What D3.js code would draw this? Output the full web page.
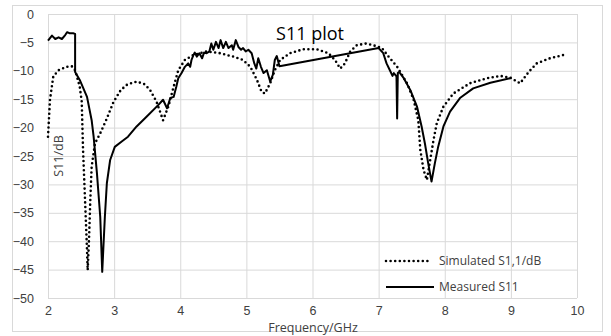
<!DOCTYPE html>
<html lang="en">
<head>
<meta charset="UTF-8">
<title>S11 plot</title>
<script src="https://d3js.org/d3.v7.min.js"></script>
<style>
    body { margin: 0; background: #fff; font-family: 'Open Sans', 'Noto Sans', sans-serif; }
    .grid line { stroke: #d9d9d9; stroke-width: 1; }
    .tick text { fill: #404040; font-size: 12.5px; }
</style>
</head>
<body>
<div id="chart"></div>
<script>
    // Simulated S1,1 (GHz, dB)
    const simFreq = [2.0, 2.03, 2.08, 2.16, 2.28, 2.36, 2.41, 2.48, 2.51, 2.53, 2.56, 2.59, 2.6,
        2.62, 2.64, 2.66, 2.71, 2.79, 2.89, 2.99, 3.1, 3.2, 3.34, 3.45, 3.54, 3.64, 3.74, 3.82, 3.9,
        3.97, 4.07, 4.2, 4.4, 4.6, 4.8, 4.95, 5.06, 5.16, 5.23, 5.28, 5.36, 5.43, 5.51, 5.66, 5.86,
        6.06, 6.24, 6.34, 6.42, 6.49, 6.57, 6.67, 6.8, 6.92, 7.05, 7.15, 7.28, 7.43, 7.53, 7.6, 7.63,
        7.68, 7.73, 7.78, 7.83, 7.88, 7.98, 8.13, 8.38, 8.64, 8.84, 8.99, 9.14, 9.27, 9.39, 9.59, 9.8];
    const simS11 = [-21.6, -15.1, -11.0, -9.9, -9.3, -9.2, -9.9, -12.8, -15.4, -23.9, -32.7, -41.5, -45.1,
        -39.8, -32.7, -26.9, -22.8, -21.0, -18.4, -15.5, -13.4, -12.4, -11.9, -12.3, -13.3, -15.4, -18.7, -16.3, -12.8,
        -9.9, -8.1, -7.2, -6.6, -6.9, -7.5, -8.1, -9.3, -11.6, -13.7, -14.0, -12.2, -9.9, -8.1, -6.9, -6.2,
        -6.2, -6.9, -8.1, -9.6, -8.7, -6.6, -5.5, -5.2, -5.5, -6.0, -7.5, -9.3, -12.2, -15.1, -18.7, -23.9,
        -27.5, -29.2, -25.7, -22.2, -19.2, -16.3, -14.0, -12.2, -11.3, -10.9, -11.2, -12.2, -10.2, -8.7, -7.8, -7.2];

    // Measured S11 (GHz, dB)
    const measFreq = [2.0, 2.06, 2.11, 2.16, 2.21, 2.26, 2.29, 2.33, 2.38, 2.41, 2.41, 2.48, 2.59, 2.66,
        2.69, 2.74, 2.79, 2.82, 2.86, 2.89, 2.94, 3.01, 3.11, 3.21, 3.34, 3.49, 3.67, 3.74, 3.8, 3.85,
        3.9, 3.94, 3.97, 4.02, 4.07, 4.12, 4.15, 4.17, 4.2, 4.22, 4.25, 4.29, 4.33, 4.36, 4.4, 4.44,
        4.47, 4.5, 4.54, 4.58, 4.61, 4.65, 4.69, 4.73, 4.78, 4.8, 4.84, 4.88, 4.92, 4.95, 4.99, 5.03,
        5.08, 5.12, 5.15, 5.18, 5.22, 5.26, 5.31, 5.36, 5.4, 5.43, 5.46, 5.5, 7.0, 7.07, 7.12, 7.17,
        7.21, 7.23, 7.27, 7.28, 7.29, 7.31, 7.38, 7.48, 7.58, 7.65, 7.7, 7.75, 7.8, 7.85, 7.9, 7.98,
        8.08, 8.23, 8.43, 8.69, 8.99];
    const measS11 = [-4.7, -3.8, -4.4, -4.1, -4.4, -3.7, -3.2, -3.4, -3.4, -3.5, -10.2, -11.6, -14.6, -18.7,
        -21.6, -28.0, -35.7, -45.4, -35.7, -29.8, -25.7, -23.4, -22.5, -21.6, -19.8, -18.1, -16.0, -15.1, -16.6, -14.8,
        -14.6, -12.8, -11.3, -10.4, -9.3, -8.7, -9.3, -8.1, -7.2, -6.8, -7.5, -6.9, -7.8, -6.8, -6.9, -6.6,
        -5.2, -6.3, -4.9, -6.0, -4.6, -6.0, -4.9, -6.0, -5.5, -6.3, -4.6, -5.8, -6.3, -6.0, -6.6, -6.3,
        -6.9, -8.7, -9.6, -7.8, -9.3, -10.4, -9.9, -11.9, -10.7, -8.1, -7.4, -9.2, -6.0, -6.9, -8.7, -9.9,
        -10.9, -10.4, -11.0, -18.4, -10.4, -10.2, -11.3, -13.4, -16.3, -19.8, -22.8, -26.3, -29.5, -26.3, -23.4, -19.8,
        -17.2, -14.8, -13.1, -12.1, -11.3];

    const xTicks = [2, 3, 4, 5, 6, 7, 8, 9, 10];
    const yTicks = [0, -5, -10, -15, -20, -25, -30, -35, -40, -45, -50];
    const legendNames = ["Simulated S1,1/dB", "Measured S11"];

    const W = 611, H = 336;
    const plot = { left: 48, right: 577, top: 14, bottom: 298 };

    const svg = d3.select("#chart").append("svg")
        .attr("width", W)
        .attr("height", H);

    // chart border
    svg.append("rect")
        .attr("x", 12.5).attr("y", 5.5)
        .attr("width", 590).attr("height", 326)
        .attr("fill", "#fff")
        .attr("stroke", "#d9d9d9");

    const x = d3.scaleLinear().domain([2, 10]).range([plot.left, plot.right]);
    const y = d3.scaleLinear().domain([-50, 0]).range([plot.bottom, plot.top]);

    // gridlines
    svg.append("g")
        .attr("class", "grid")
        .attr("transform", `translate(0,${plot.bottom})`)
        .call(d3.axisBottom(x).tickValues(xTicks).tickSize(-(plot.bottom - plot.top)).tickFormat(""))
        .call(g => g.select(".domain").remove());
    svg.append("g")
        .attr("class", "grid")
        .attr("transform", `translate(${plot.left},0)`)
        .call(d3.axisLeft(y).tickValues(yTicks).tickSize(-(plot.right - plot.left)).tickFormat(""))
        .call(g => g.select(".domain").remove());

    // tick labels
    svg.append("g")
        .attr("transform", `translate(0,${plot.bottom})`)
        .call(d3.axisBottom(x).tickValues(xTicks).tickSize(0).tickPadding(8))
        .call(g => g.select(".domain").remove());
    svg.append("g")
        .attr("transform", `translate(${plot.left},0)`)
        .call(d3.axisLeft(y).tickValues(yTicks).tickSize(0).tickPadding(14))
        .call(g => g.select(".domain").remove());

    // curves
    const line = d3.line().x(d => x(d[0])).y(d => y(d[1]));
    const simData = d3.zip(simFreq, simS11);
    const measData = d3.zip(measFreq, measS11);

    svg.append("path")
        .datum(simData)
        .attr("d", line)
        .attr("fill", "none")
        .attr("stroke", "#000")
        .attr("stroke-width", 2.6)
        .attr("stroke-linecap", "round")
        .attr("stroke-dasharray", "0 4.6");

    svg.append("path")
        .datum(measData)
        .attr("d", line)
        .attr("fill", "none")
        .attr("stroke", "#000")
        .attr("stroke-width", 2)
        .attr("stroke-linejoin", "round");

    // title
    svg.append("text")
        .attr("x", 310).attr("y", 40)
        .attr("text-anchor", "middle")
        .attr("fill", "#000")
        .style("font-size", "18px")
        .text("S11 plot");

    // axis titles
    svg.append("text")
        .attr("x", 313).attr("y", 332)
        .attr("text-anchor", "middle")
        .attr("fill", "#404040")
        .style("font-size", "12.5px")
        .text("Frequency/GHz");
    svg.append("text")
        .attr("transform", `translate(63,${(plot.top + plot.bottom) / 2}) rotate(-90)`)
        .attr("text-anchor", "middle")
        .attr("fill", "#404040")
        .style("font-size", "12.5px")
        .text("S11/dB");

    // legend
    const legend = svg.append("g");
    legendNames.forEach((name, i) => {
        const ly = 261 + i * 26;
        legend.append("line")
            .attr("x1", 386).attr("x2", i === 0 ? 431 : 434)
            .attr("y1", ly).attr("y2", ly)
            .attr("stroke", "#000")
            .attr("stroke-width", i === 0 ? 2.6 : 2)
            .attr("stroke-linecap", i === 0 ? "round" : "butt")
            .attr("stroke-dasharray", i === 0 ? "0 4.6" : null);
        legend.append("text")
            .attr("x", 439).attr("y", ly + 4)
            .attr("fill", "#404040")
            .style("font-size", "12px")
            .text(name);
    });
</script>
</body>
</html>
